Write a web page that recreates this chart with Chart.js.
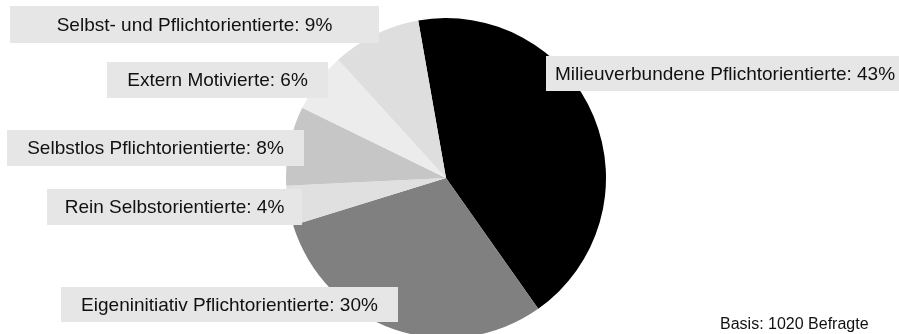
<!DOCTYPE html>
<html>
<head>
<meta charset="utf-8">
<script src="https://cdn.jsdelivr.net/npm/chart.js@4/dist/chart.umd.min.js"></script>
<style>
  body { margin: 0; background: #fff; overflow: hidden; }
  #wrap { position: relative; width: 899px; height: 340px; }
</style>
</head>
<body>
<div id="wrap"><canvas id="myChart"></canvas></div>
<script>
// slices, clockwise from the top
var labels = ["Milieuverbundene Pflichtorientierte", "Eigeninitiativ Pflichtorientierte", "Rein Selbstorientierte",
  "Selbstlos Pflichtorientierte", "Extern Motivierte", "Selbst- und Pflichtorientierte"];
var values = [43, 30, 4, 8, 6, 9];
var sliceColors = ["#000000", "#808080", "#e0e0e0", "#c6c6c6", "#ececec", "#dedede"];
var note = "Basis: 1020 Befragte";

// label boxes: [left, top, right, bottom, align]
var boxes = [
  [546, 56, 905, 91, "left"],
  [61, 287, 398, 322, "center"],
  [47, 189, 302, 225, "center"],
  [7, 130, 304, 166, "center"],
  [107, 62, 328, 98, "center"],
  [10, 6, 379, 43, "center"]
];

var labelBoxes = {
  id: "labelBoxes",
  afterDraw: function(chart) {
    var ctx = chart.ctx;
    ctx.save();
    ctx.font = "19px 'Liberation Sans', Arial, sans-serif";
    ctx.textBaseline = "middle";
    for (var i = 0; i < labels.length; i++) {
      var b = boxes[i];
      ctx.fillStyle = "#e6e6e6";
      ctx.fillRect(b[0], b[1], b[2] - b[0], b[3] - b[1]);
      ctx.fillStyle = "#111";
      var txt = labels[i] + ": " + values[i] + "%";
      if (b[4] == "left") {
        ctx.textAlign = "left";
        ctx.fillText(txt, b[0] + 9, (b[1] + b[3]) / 2 + 1);
      } else {
        ctx.textAlign = "center";
        ctx.fillText(txt, (b[0] + b[2]) / 2, (b[1] + b[3]) / 2 + 1);
      }
    }
    ctx.font = "16px 'Liberation Sans', Arial, sans-serif";
    ctx.textAlign = "left";
    ctx.fillText(note, 720, 325);
    ctx.restore();
  }
};

new Chart("myChart", {
  type: "pie",
  data: {
    labels: labels,
    datasets: [{
      data: values,
      backgroundColor: sliceColors,
      borderWidth: 0
    }]
  },
  options: {
    responsive: true,
    maintainAspectRatio: false,
    animation: false,
    rotation: -10,
    layout: { padding: { top: 18, bottom: 2, left: 0, right: 7 } },
    plugins: {
      legend: { display: false },
      tooltip: { enabled: false }
    }
  },
  plugins: [labelBoxes]
});
</script>
</body>
</html>
